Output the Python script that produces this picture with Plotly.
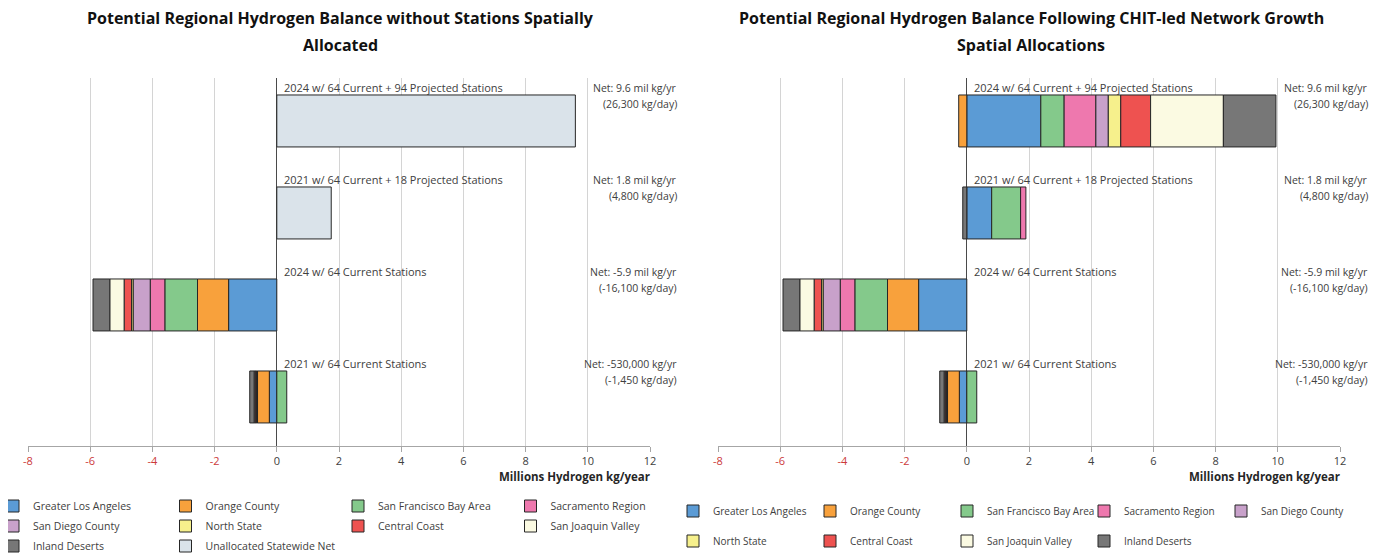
import plotly.graph_objects as go

# ---------------- data ----------------
categories = [
    "2021 w/ 64 Current Stations",
    "2024 w/ 64 Current Stations",
    "2021 w/ 64 Current + 18 Projected Stations",
    "2024 w/ 64 Current + 94 Projected Stations",
]
net_annual = ["Net: -530,000 kg/yr", "Net: -5.9 mil kg/yr", "Net: 1.8 mil kg/yr", "Net: 9.6 mil kg/yr"]
net_daily = ["(-1,450 kg/day)", "(-16,100 kg/day)", "(4,800 kg/day)", "(26,300 kg/day)"]

regions = [
    "Greater Los Angeles", "Orange County", "San Francisco Bay Area", "Sacramento Region",
    "San Diego County", "North State", "Central Coast", "San Joaquin Valley", "Inland Deserts",
    "Unallocated Statewide Net",
]
region_colors = [
    "#5b9bd5", "#f8a13c", "#84c98b", "#ee78ae",
    "#c8a1ca", "#f6f08c", "#ee5250", "#fbfae2", "#777777",
    "#dae3ea",
]

# values (millions kg/yr) in category order
left_la = [-0.24, -1.55, None, None]
left_oc = [-0.38, -1.00, None, None]
left_sf = [0.32, -1.05, None, None]
left_sac = [-0.02, -0.47, None, None]
left_sd = [-0.02, -0.55, None, None]
left_ns = [-0.01, -0.05, None, None]
left_cc = [-0.03, -0.24, None, None]
left_sjv = [-0.03, -0.46, None, None]
left_id = [-0.14, -0.54, None, None]
left_un = [None, None, 1.75, 9.6]

right_la = [-0.24, -1.55, 0.80, 2.38]
right_oc = [-0.38, -1.00, None, -0.26]
right_sf = [0.32, -1.05, 0.93, 0.75]
right_sac = [-0.02, -0.47, 0.17, 1.02]
right_sd = [-0.02, -0.55, None, 0.40]
right_ns = [-0.01, -0.05, None, 0.40]
right_cc = [-0.03, -0.24, None, 0.96]
right_sjv = [-0.03, -0.46, None, 2.34]
right_id = [-0.14, -0.54, -0.13, 1.69]

tick_vals = [-8, -6, -4, -2, 0, 2, 4, 6, 8, 10, 12]

left_title = ["Potential Regional Hydrogen Balance without Stations Spatially", "Allocated"]
right_title = ["Potential Regional Hydrogen Balance Following CHIT-led Network Growth",
               "Spatial Allocations"]
x_title = "Millions Hydrogen kg/year"

left_series = [left_la, left_oc, left_sf, left_sac, left_sd, left_ns, left_cc, left_sjv, left_id, left_un]
right_series = [right_la, right_oc, right_sf, right_sac, right_sd, right_ns, right_cc, right_sjv, right_id]

# ---------------- figure ----------------
# the page body has an 8px margin, so the figure is sized to the visible area
# and page coordinates are converted to figure coordinates
OFF = 8
W, H = 1383 - OFF, 556 - OFF
FONT = "Open Sans"


def px(x):
    return (x - OFF) / W


def py(y):
    return (H - (y - OFF)) / H


ypos = list(range(len(categories)))

fig = go.Figure()

left_legend_rows = ["legend", "legend", "legend", "legend",
                    "legend2", "legend2", "legend2", "legend2",
                    "legend3", "legend3"]
right_legend_rows = ["legend4"] * 5 + ["legend5"] * 4

left_step = 172.5
right_step = 137.0

for i, vals in enumerate(left_series):
    fig.add_trace(go.Bar(
        x=vals, y=ypos, orientation="h", name=regions[i], width=0.565,
        marker=dict(color=region_colors[i], line=dict(color="#262626", width=1)),
        xaxis="x", yaxis="y", legend=left_legend_rows[i], hoverinfo="x+name",
        legendwidth=(left_step - 45) if i < 9 else 170,
    ))
for i, vals in enumerate(right_series):
    fig.add_trace(go.Bar(
        x=vals, y=ypos, orientation="h", name=regions[i], width=0.565,
        marker=dict(color=region_colors[i], line=dict(color="#262626", width=1)),
        xaxis="x2", yaxis="y2", legend=right_legend_rows[i], hoverinfo="x+name",
        legendwidth=right_step - 45,
    ))

tick_text = [f"<span style='color:#cc3a3a'>{v}</span>" if v < 0 else str(v) for v in tick_vals]

xax = dict(
    range=[-8, 12], tickvals=tick_vals, ticktext=tick_text,
    showgrid=True, gridcolor="#d4d4d4", gridwidth=1,
    zeroline=True, zerolinecolor="#4a4a4a", zerolinewidth=1,
    showline=True, linecolor="#a6a6a6", linewidth=1,
    ticks="outside", ticklen=5, tickcolor="#a6a6a6",
    tickfont=dict(family=FONT, size=11, color="#404040"),
    fixedrange=True,
)
yax = dict(range=[-0.533, 3.467], showticklabels=False, showgrid=False, zeroline=False,
           showline=False, ticks="", domain=[py(446), py(78)], fixedrange=True)

fig.update_layout(
    width=W, height=H,
    margin=dict(l=0, r=0, t=0, b=0, autoexpand=False),
    paper_bgcolor="white", plot_bgcolor="white",
    barmode="relative",
    font=dict(family=FONT, color="#404040"),
    xaxis=dict(xax, domain=[px(28), px(650)], anchor="y"),
    yaxis=dict(yax, anchor="x"),
    xaxis2=dict(xax, domain=[px(718), px(1340)], anchor="y2"),
    yaxis2=dict(yax, anchor="x2"),
)

leg_common = dict(orientation="h", xanchor="left", yanchor="middle",
                  font=dict(family=FONT, size=10.5, color="#404040"),
                  bgcolor="rgba(0,0,0,0)", borderwidth=0, traceorder="normal",
                  itemclick=False, itemdoubleclick=False)
left_lx = px(-7)
right_lx = px(673)
fig.update_layout(
    legend=dict(leg_common, x=left_lx, y=py(506)),
    legend2=dict(leg_common, x=left_lx, y=py(526)),
    legend3=dict(leg_common, x=left_lx, y=py(546)),
    legend4=dict(leg_common, x=right_lx, y=py(511), font=dict(family=FONT, size=10, color="#404040")),
    legend5=dict(leg_common, x=right_lx, y=py(541), font=dict(family=FONT, size=10, color="#404040")),
)

annotations = []
for xr, yr, shift_l, shift_r in [("x", "y", 5, 29), ("x2", "y2", 5, 30)]:
    for i, cat in enumerate(categories):
        annotations.append(dict(x=0, y=ypos[i], xref=xr, yref=yr, text=cat, showarrow=False,
                                xanchor="left", yanchor="middle", xshift=shift_l, yshift=33,
                                font=dict(family=FONT, size=11, color="#404040")))
        annotations.append(dict(x=12, y=ypos[i], xref=xr, yref=yr, text=net_annual[i], showarrow=False,
                                xanchor="right", yanchor="middle", xshift=shift_r, yshift=33,
                                font=dict(family=FONT, size=10.5, color="#404040")))
        annotations.append(dict(x=12, y=ypos[i], xref=xr, yref=yr, text=net_daily[i], showarrow=False,
                                xanchor="right", yanchor="middle", xshift=shift_r, yshift=17,
                                font=dict(family=FONT, size=10.5, color="#404040")))
    # axis title
    annotations.append(dict(x=12, y=py(476), xref=xr, yref="paper", text=f"<b>{x_title}</b>",
                            showarrow=False, xanchor="right", yanchor="middle", xshift=2,
                            font=dict(family=FONT, size=11.5, color="#262626")))

for title, cx in [(left_title, 340), (right_title, 1031)]:
    for j, line in enumerate(title):
        annotations.append(dict(x=px(cx), y=py(18 + 27 * j), xref="paper", yref="paper",
                                text=f"<b>{line}</b>", showarrow=False, xanchor="center",
                                yanchor="middle", font=dict(family=FONT, size=16, color="#111111")))

fig.update_layout(annotations=annotations)

fig.write_html("out.html")
